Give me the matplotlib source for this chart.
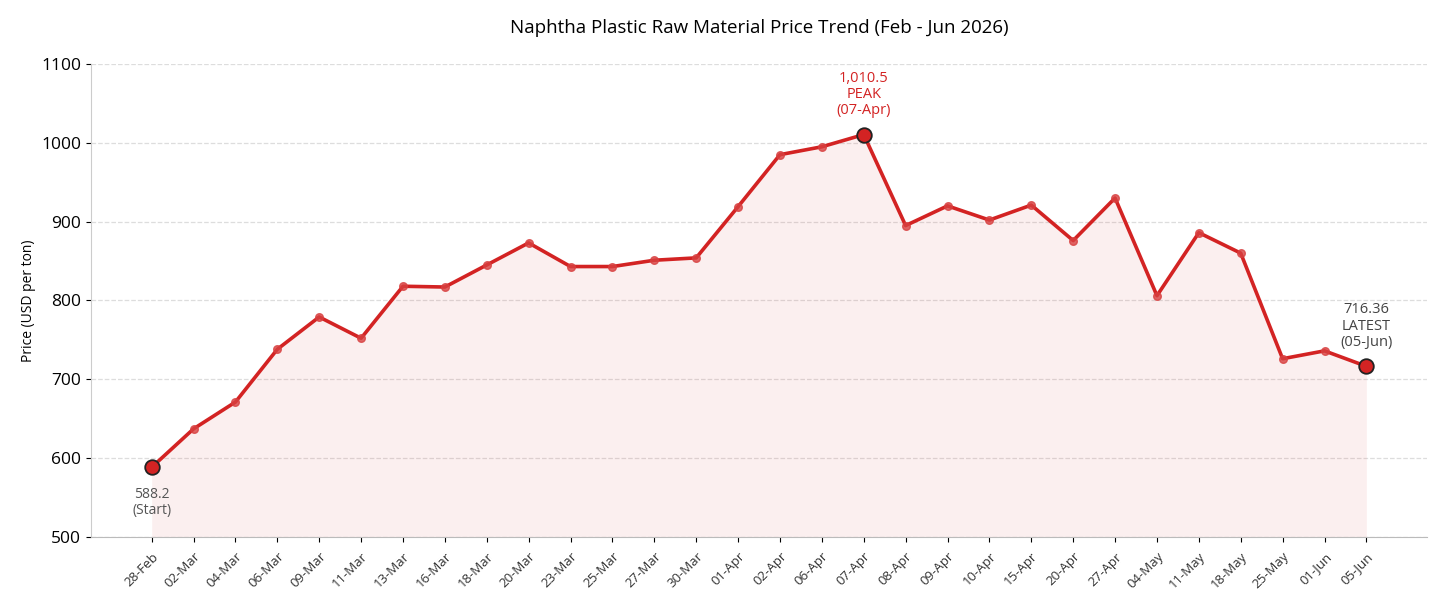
import matplotlib
matplotlib.use('Agg')
import matplotlib.pyplot as plt

dates = ['28-Feb', '02-Mar', '04-Mar', '06-Mar', '09-Mar', '11-Mar', '13-Mar', '16-Mar',
         '18-Mar', '20-Mar', '23-Mar', '25-Mar', '27-Mar', '30-Mar', '01-Apr', '02-Apr',
         '06-Apr', '07-Apr', '08-Apr', '09-Apr', '10-Apr', '15-Apr', '20-Apr', '27-Apr',
         '04-May', '11-May', '18-May', '25-May', '01-Jun', '05-Jun']
prices = [588.2, 637, 671, 738, 779, 752, 818, 817, 845, 873, 843, 843, 851, 854, 919,
          985, 995, 1010.5, 895, 920, 902, 921, 876, 930, 806, 886, 860, 726, 736, 716.36]

plt.rcParams['font.family'] = ['Open Sans', 'DejaVu Sans']
red = '#d32323'

fig = plt.figure(figsize=(14.43, 6.1), dpi=100)
ax = fig.add_axes([0.063, 0.12, 0.926, 0.775])

x = list(range(len(dates)))
ax.fill_between(x, prices, 500, color=red, alpha=0.07, linewidth=0)
ax.plot(x, prices, color=red, linewidth=2.6, zorder=3)
ax.plot(x, prices, 'o', color='#d84040', markersize=5.5, alpha=0.8, zorder=4)

# highlighted points
i_peak = prices.index(max(prices))
for i in [0, i_peak, len(prices) - 1]:
    ax.plot(x[i], prices[i], 'o', markersize=10.5, markerfacecolor=red,
            markeredgecolor='#222222', markeredgewidth=1.3, zorder=5)

ax.annotate('%.1f\n(Start)' % prices[0], (x[0], prices[0]), xytext=(0, -14),
            textcoords='offset points', ha='center', va='top', fontsize=10,
            color='#555555', linespacing=1.1)
ax.annotate('{:,.1f}\nPEAK\n({})'.format(prices[i_peak], dates[i_peak]), (x[i_peak], prices[i_peak]),
            xytext=(0, 12), textcoords='offset points', ha='center', va='bottom',
            fontsize=10.5, color=red, linespacing=1.1)
ax.annotate('{}\nLATEST\n({})'.format(prices[-1], dates[-1]), (x[-1], prices[-1]),
            xytext=(0, 12), textcoords='offset points', ha='center', va='bottom',
            fontsize=10.5, color='#444444', linespacing=1.1)

ax.set_ylim(500, 1100)
ax.set_yticks(range(500, 1101, 100))
ax.set_xticks(x)
ax.set_xticklabels(dates, rotation=45, ha='right', rotation_mode='anchor', fontsize=9.5,
                   color='#333333')
ax.tick_params(axis='y', labelsize=12.5)
ax.tick_params(axis='x', pad=6)
ax.set_ylabel('Price (USD per ton)', fontsize=10)
ax.set_title('Naphtha Plastic Raw Material Price Trend (Feb - Jun 2026)', fontsize=13.5, pad=22)

ax.grid(axis='y', linestyle='--', color='#dddddd', linewidth=0.9)
ax.set_axisbelow(True)
for s in ['top', 'right']:
    ax.spines[s].set_visible(False)
ax.spines['left'].set_color('#cccccc')
ax.spines['bottom'].set_color('#bbbbbb')

fig.savefig('out.png', dpi=100)
